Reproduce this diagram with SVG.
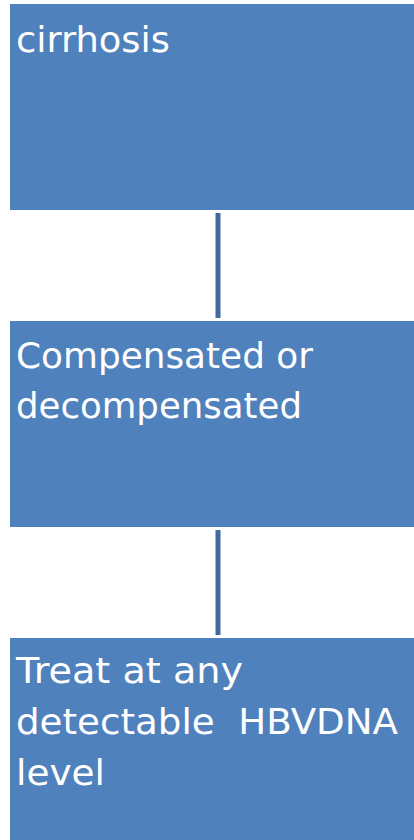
<svg xmlns="http://www.w3.org/2000/svg" width="414" height="840" viewBox="0 0 414 840">
<style>
.box{fill:#4F81BD;}
.lbl{font-family:"DejaVu Sans",sans-serif;font-size:36px;fill:#FFFFFF;}
.conn{stroke:#41699C;stroke-width:5;fill:none;}
</style>
<rect width="414" height="840" fill="#FFFFFF"/>
<g id="connectors">
<line class="conn" x1="218" y1="213" x2="218" y2="318"/>
<line class="conn" x1="218" y1="530" x2="218" y2="635"/>
</g>
<g id="node-cirrhosis">
<rect class="box" x="10" y="4" width="404" height="206"/>
<text class="lbl" x="16" y="52" textLength="154" lengthAdjust="spacingAndGlyphs">cirrhosis</text>
</g>
<g id="node-compensated">
<rect class="box" x="10" y="321" width="404" height="206"/>
<text class="lbl" x="16" y="368" textLength="297" lengthAdjust="spacingAndGlyphs">Compensated or</text>
<text class="lbl" x="16" y="418" textLength="286" lengthAdjust="spacingAndGlyphs">decompensated</text>
</g>
<g id="node-treat">
<rect class="box" x="10" y="638" width="404" height="202"/>
<text class="lbl" x="16" y="683" textLength="227" lengthAdjust="spacingAndGlyphs">Treat at any</text>
<text class="lbl" x="16" y="734" xml:space="preserve" textLength="382" lengthAdjust="spacingAndGlyphs">detectable  HBVDNA</text>
<text class="lbl" x="16" y="785" textLength="89" lengthAdjust="spacingAndGlyphs">level</text>
</g>
</svg>
